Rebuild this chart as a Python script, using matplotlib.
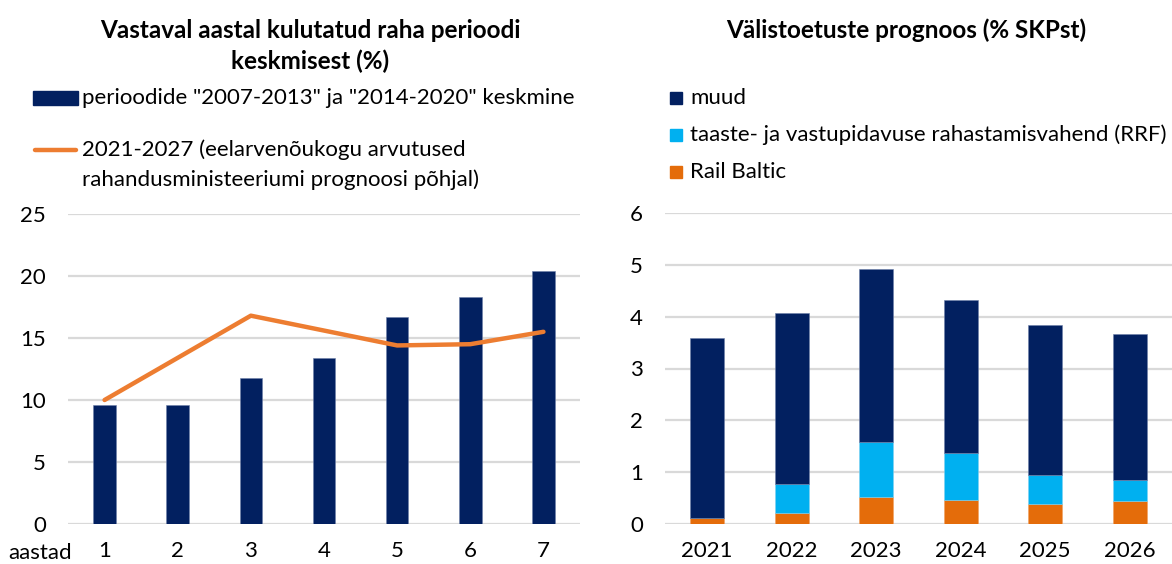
import matplotlib
matplotlib.use("Agg")
import matplotlib.pyplot as plt
from matplotlib.patches import Rectangle
from matplotlib.lines import Line2D

plt.rcParams['font.family'] = ['Lato', 'DejaVu Sans']

# left panel data
aastad = [1, 2, 3, 4, 5, 6, 7]
keskmine = [9.6, 9.6, 11.8, 13.4, 16.7, 18.3, 20.4]
uus_periood = [10.0, 13.4, 16.8, 15.6, 14.4, 14.5, 15.5]

# right panel data
years = ['2021', '2022', '2023', '2024', '2025', '2026']
rail_baltic = [0.12, 0.21, 0.52, 0.46, 0.39, 0.44]
rrf = [0.0, 0.56, 1.07, 0.91, 0.56, 0.40]
muud = [3.47, 3.30, 3.33, 2.96, 2.88, 2.83]

navy = '#022060'
orange_line = '#ED7D31'
orange_bar = '#E46C0A'
light_blue = '#00B0F0'
grid_col = '#D9D9D9'
FS = 16
TFS = 17.5

W, H = 1172, 564
def fx(px):
    return px / W
def fy(py):
    return 1 - py / H

fig = plt.figure(figsize=(W / 100, H / 100), dpi=100)


def style_axes(ax):
    for s in ax.spines.values():
        s.set_visible(False)
    ax.yaxis.grid(True, color=grid_col, linewidth=1.6)
    ax.set_axisbelow(True)
    ax.tick_params(axis='both', length=0, labelsize=FS)
    ax.tick_params(axis='y', pad=16)
    ax.tick_params(axis='x', pad=12)


# ---- left chart ----
ax1 = fig.add_axes([fx(68), fy(524), (580 - 68) / W, 310 / H])
ax1.bar(aastad, keskmine, width=0.31, color=navy, edgecolor='#6d7fa8', linewidth=0.4)
ax1.plot(aastad, uus_periood, color=orange_line, linewidth=3.2, solid_capstyle='round')
ax1.set_xlim(0.5, 7.5)
ax1.set_ylim(0, 25)
ax1.set_yticks(range(0, 26, 5))
ax1.set_xticks(aastad)
style_axes(ax1)

fig.text(fx(8), fy(553), 'aastad', fontsize=FS, va='center', ha='left')
fig.text(fx(310), fy(46), 'Vastaval aastal kulutatud raha perioodi\nkeskmisest (%)',
         fontsize=TFS, fontweight='bold', ha='center', va='center', linespacing=1.35)

# left legend
fig.add_artist(Rectangle((fx(33), fy(105)), fx(45), 14 / H, color=navy,
                         transform=fig.transFigure))
fig.text(fx(82), fy(98), 'perioodide "2007-2013" ja "2014-2020" keskmine',
         fontsize=FS, va='center', ha='left')
fig.add_artist(Line2D([fx(35), fx(76)], [fy(150), fy(150)], color=orange_line,
                      linewidth=3.2, solid_capstyle='round', transform=fig.transFigure))
fig.text(fx(82), fy(150), '2021-2027 (eelarvenõukogu arvutused', fontsize=FS,
         va='center', ha='left')
fig.text(fx(82), fy(180), 'rahandusministeeriumi prognoosi põhjal)', fontsize=FS,
         va='center', ha='left')

# ---- right chart ----
ax2 = fig.add_axes([fx(665), fy(524), (1172 - 665) / W, 311 / H])
x = range(len(years))
bottom2 = [a + b for a, b in zip(rail_baltic, rrf)]
ax2.bar(x, rail_baltic, width=0.4, color=orange_bar, edgecolor='#f0a060', linewidth=0.4)
ax2.bar(x, rrf, width=0.4, bottom=rail_baltic, color=light_blue, edgecolor='#80d0f0', linewidth=0.4)
ax2.bar(x, muud, width=0.4, bottom=bottom2, color=navy, edgecolor='#6d7fa8', linewidth=0.4)
ax2.set_xlim(-0.5, 5.5)
ax2.set_ylim(0, 6)
ax2.set_yticks(range(0, 7))
ax2.set_xticks(list(x))
ax2.set_xticklabels(years)
style_axes(ax2)

fig.text(fx(906), fy(30), 'Välistoetuste prognoos (% SKPst)', fontsize=TFS,
         fontweight='bold', ha='center', va='center')

# right legend
for yy, col, lab in [(98, navy, 'muud'),
                     (135, light_blue, 'taaste- ja vastupidavuse rahastamisvahend (RRF)'),
                     (172, orange_bar, 'Rail Baltic')]:
    fig.add_artist(Rectangle((fx(670), fy(yy + 6)), fx(12), 12 / H, color=col,
                             transform=fig.transFigure))
    fig.text(fx(690), fy(yy), lab, fontsize=FS, va='center', ha='left')

fig.savefig('out.png', dpi=100)
